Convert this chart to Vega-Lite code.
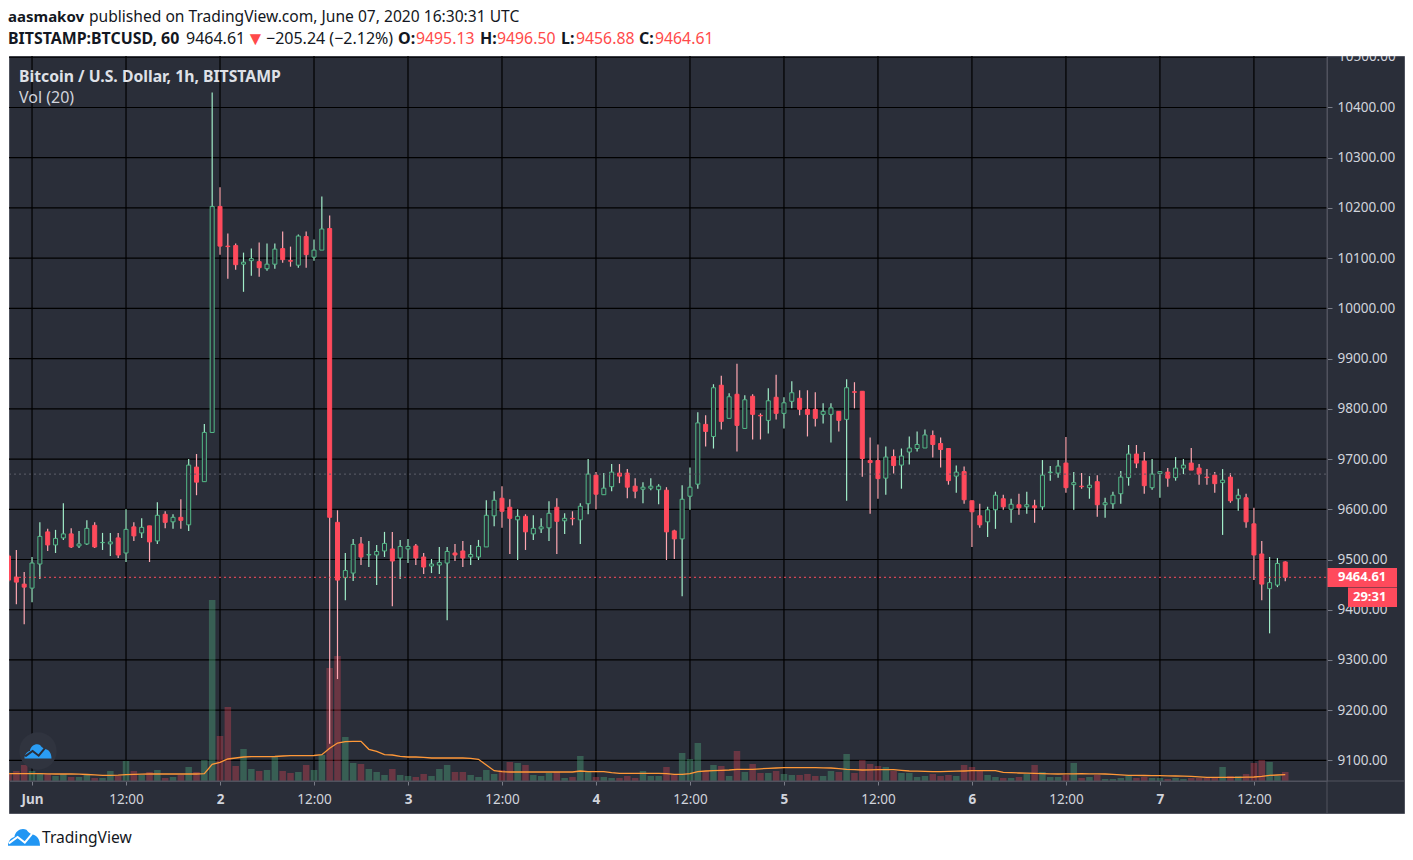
{
  "$schema": "https://vega.github.io/schema/vega-lite/v6.json",
  "width": 1395,
  "height": 757,
  "autosize": "none",
  "padding": {"left": 9, "top": 56, "right": 9, "bottom": 47},
  "background": "#ffffff",
  "view": {"fill": "#2a2e39", "stroke": "#50535e"},
  "config": {"font": "Noto Sans", "text": {"font": "Noto Sans"}},
  "datasets": {
    "candles": [
      {"t":"2020-05-31T21:00Z","open":9507,"high":9510,"low":9455,"close":9459,"vol":8,"ma":7.3},
      {"t":"2020-05-31T22:00Z","open":9465,"high":9519,"low":9411,"close":9455,"vol":10,"ma":7.3},
      {"t":"2020-05-31T23:00Z","open":9451,"high":9475,"low":9371,"close":9445,"vol":16,"ma":7.3},
      {"t":"2020-06-01T00:00Z","open":9443,"high":9505,"low":9415,"close":9493,"vol":10,"ma":7.3},
      {"t":"2020-06-01T01:00Z","open":9491,"high":9574,"low":9461,"close":9546,"vol":8,"ma":7.3},
      {"t":"2020-06-01T02:00Z","open":9555,"high":9561,"low":9517,"close":9529,"vol":7,"ma":7.2},
      {"t":"2020-06-01T03:00Z","open":9529,"high":9559,"low":9513,"close":9542,"vol":5,"ma":7},
      {"t":"2020-06-01T04:00Z","open":9543,"high":9612,"low":9539,"close":9551,"vol":7,"ma":7},
      {"t":"2020-06-01T05:00Z","open":9551,"high":9562,"low":9523,"close":9525,"vol":4,"ma":7},
      {"t":"2020-06-01T06:00Z","open":9527,"high":9557,"low":9523,"close":9531,"vol":4,"ma":6.8},
      {"t":"2020-06-01T07:00Z","open":9531,"high":9578,"low":9529,"close":9562,"vol":6,"ma":6.5},
      {"t":"2020-06-01T08:00Z","open":9568,"high":9574,"low":9523,"close":9525,"vol":3,"ma":6.2},
      {"t":"2020-06-01T09:00Z","open":9533.5,"high":9553,"low":9519,"close":9534,"vol":3,"ma":5.7},
      {"t":"2020-06-01T10:00Z","open":9531,"high":9553,"low":9507,"close":9535,"vol":10,"ma":5.7},
      {"t":"2020-06-01T11:00Z","open":9543,"high":9553,"low":9503,"close":9509,"vol":5,"ma":5.8},
      {"t":"2020-06-01T12:00Z","open":9513,"high":9600,"low":9495,"close":9560,"vol":20,"ma":6.3},
      {"t":"2020-06-01T13:00Z","open":9565,"high":9574,"low":9537,"close":9547,"vol":10,"ma":6.6},
      {"t":"2020-06-01T14:00Z","open":9553,"high":9582,"low":9543,"close":9564,"vol":6,"ma":6.8},
      {"t":"2020-06-01T15:00Z","open":9567,"high":9567,"low":9495,"close":9535,"vol":9,"ma":7},
      {"t":"2020-06-01T16:00Z","open":9537,"high":9614,"low":9531,"close":9588,"vol":11,"ma":7},
      {"t":"2020-06-01T17:00Z","open":9590,"high":9596,"low":9562,"close":9574,"vol":3,"ma":7},
      {"t":"2020-06-01T18:00Z","open":9575,"high":9590,"low":9561,"close":9584,"vol":4,"ma":7},
      {"t":"2020-06-01T19:00Z","open":9584,"high":9620,"low":9561,"close":9578,"vol":6,"ma":7},
      {"t":"2020-06-01T20:00Z","open":9569,"high":9700,"low":9557,"close":9688,"vol":14,"ma":7},
      {"t":"2020-06-01T21:00Z","open":9684,"high":9710,"low":9628,"close":9654,"vol":9,"ma":7},
      {"t":"2020-06-01T22:00Z","open":9655,"high":9770,"low":9655,"close":9753,"vol":21,"ma":7.3},
      {"t":"2020-06-01T23:00Z","open":9753,"high":10430,"low":9753,"close":10203,"vol":181,"ma":16.7},
      {"t":"2020-06-02T00:00Z","open":10203,"high":10241,"low":10107,"close":10124,"vol":45,"ma":18.7},
      {"t":"2020-06-02T01:00Z","open":10124,"high":10149,"low":10059,"close":10123,"vol":74,"ma":22},
      {"t":"2020-06-02T02:00Z","open":10125,"high":10129,"low":10077,"close":10087,"vol":15,"ma":23},
      {"t":"2020-06-02T03:00Z","open":10088,"high":10111,"low":10033,"close":10092,"vol":32,"ma":24},
      {"t":"2020-06-02T04:00Z","open":10095,"high":10119,"low":10065,"close":10099,"vol":12,"ma":24.3},
      {"t":"2020-06-02T05:00Z","open":10093,"high":10131,"low":10063,"close":10081,"vol":10,"ma":24.3},
      {"t":"2020-06-02T06:00Z","open":10079,"high":10129,"low":10075,"close":10088,"vol":11,"ma":24.3},
      {"t":"2020-06-02T07:00Z","open":10088,"high":10129,"low":10079,"close":10118,"vol":25,"ma":24.5},
      {"t":"2020-06-02T08:00Z","open":10119,"high":10153,"low":10091,"close":10097,"vol":10,"ma":25},
      {"t":"2020-06-02T09:00Z","open":10095,"high":10123,"low":10083,"close":10094,"vol":8,"ma":25.3},
      {"t":"2020-06-02T10:00Z","open":10086,"high":10147,"low":10081,"close":10144,"vol":9,"ma":25.3},
      {"t":"2020-06-02T11:00Z","open":10143,"high":10153,"low":10081,"close":10107,"vol":16,"ma":25.3},
      {"t":"2020-06-02T12:00Z","open":10102,"high":10137,"low":10095,"close":10116,"vol":11,"ma":25.5},
      {"t":"2020-06-02T13:00Z","open":10116,"high":10223,"low":10116,"close":10158,"vol":26,"ma":26.3},
      {"t":"2020-06-02T14:00Z","open":10159,"high":10185,"low":9133,"close":9584,"vol":113,"ma":32.7},
      {"t":"2020-06-02T15:00Z","open":9574,"high":9598,"low":9262,"close":9459,"vol":125,"ma":38},
      {"t":"2020-06-02T16:00Z","open":9464,"high":9513,"low":9419,"close":9478,"vol":44,"ma":39.3},
      {"t":"2020-06-02T17:00Z","open":9473,"high":9541,"low":9457,"close":9530,"vol":18,"ma":39.7},
      {"t":"2020-06-02T18:00Z","open":9531,"high":9545,"low":9489,"close":9505,"vol":17,"ma":39.7},
      {"t":"2020-06-02T19:00Z","open":9509,"high":9537,"low":9485,"close":9510,"vol":12,"ma":31.7},
      {"t":"2020-06-02T20:00Z","open":9509,"high":9529,"low":9449,"close":9516,"vol":9,"ma":29.7},
      {"t":"2020-06-02T21:00Z","open":9517,"high":9555,"low":9505,"close":9532,"vol":6,"ma":26.3},
      {"t":"2020-06-02T22:00Z","open":9521,"high":9555,"low":9407,"close":9497,"vol":12,"ma":26},
      {"t":"2020-06-02T23:00Z","open":9503,"high":9539,"low":9461,"close":9526,"vol":6,"ma":24.7},
      {"t":"2020-06-03T00:00Z","open":9521,"high":9541,"low":9493,"close":9526,"vol":5,"ma":24},
      {"t":"2020-06-03T01:00Z","open":9527,"high":9531,"low":9489,"close":9503,"vol":4,"ma":24},
      {"t":"2020-06-03T02:00Z","open":9505,"high":9513,"low":9471,"close":9485,"vol":7,"ma":23.7},
      {"t":"2020-06-03T03:00Z","open":9487,"high":9501,"low":9473,"close":9491,"vol":5,"ma":23},
      {"t":"2020-06-03T04:00Z","open":9489,"high":9525,"low":9471,"close":9494,"vol":12,"ma":23},
      {"t":"2020-06-03T05:00Z","open":9493,"high":9525,"low":9379,"close":9516,"vol":16,"ma":23},
      {"t":"2020-06-03T06:00Z","open":9513,"high":9531,"low":9497,"close":9509,"vol":9,"ma":23},
      {"t":"2020-06-03T07:00Z","open":9517,"high":9537,"low":9485,"close":9503,"vol":9,"ma":23},
      {"t":"2020-06-03T08:00Z","open":9505,"high":9529,"low":9489,"close":9510,"vol":6,"ma":22.7},
      {"t":"2020-06-03T09:00Z","open":9505,"high":9539,"low":9499,"close":9526,"vol":4,"ma":21.7},
      {"t":"2020-06-03T10:00Z","open":9525,"high":9618,"low":9525,"close":9588,"vol":11,"ma":16},
      {"t":"2020-06-03T11:00Z","open":9587,"high":9636,"low":9566,"close":9618,"vol":7,"ma":10.3},
      {"t":"2020-06-03T12:00Z","open":9622,"high":9646,"low":9563,"close":9596,"vol":11,"ma":9.3},
      {"t":"2020-06-03T13:00Z","open":9604,"high":9620,"low":9511,"close":9582,"vol":19,"ma":9},
      {"t":"2020-06-03T14:00Z","open":9579,"high":9600,"low":9499,"close":9586,"vol":18,"ma":9},
      {"t":"2020-06-03T15:00Z","open":9586,"high":9590,"low":9519,"close":9555,"vol":16,"ma":9},
      {"t":"2020-06-03T16:00Z","open":9551,"high":9588,"low":9539,"close":9562,"vol":6,"ma":9},
      {"t":"2020-06-03T17:00Z","open":9561,"high":9582,"low":9553,"close":9565,"vol":5,"ma":9},
      {"t":"2020-06-03T18:00Z","open":9563,"high":9616,"low":9537,"close":9592,"vol":8,"ma":9},
      {"t":"2020-06-03T19:00Z","open":9604,"high":9622,"low":9511,"close":9576,"vol":9,"ma":9},
      {"t":"2020-06-03T20:00Z","open":9577,"high":9592,"low":9551,"close":9582,"vol":3,"ma":9},
      {"t":"2020-06-03T21:00Z","open":9582,"high":9596,"low":9568,"close":9581,"vol":4,"ma":9},
      {"t":"2020-06-03T22:00Z","open":9579,"high":9612,"low":9531,"close":9606,"vol":25,"ma":10},
      {"t":"2020-06-03T23:00Z","open":9611,"high":9700,"low":9590,"close":9670,"vol":9,"ma":9.3},
      {"t":"2020-06-04T00:00Z","open":9668,"high":9674,"low":9600,"close":9630,"vol":4,"ma":9.3},
      {"t":"2020-06-04T01:00Z","open":9629,"high":9672,"low":9629,"close":9642,"vol":4,"ma":9.3},
      {"t":"2020-06-04T02:00Z","open":9645,"high":9690,"low":9636,"close":9674,"vol":3,"ma":8.3},
      {"t":"2020-06-04T03:00Z","open":9672,"high":9690,"low":9652,"close":9666,"vol":3,"ma":7.7},
      {"t":"2020-06-04T04:00Z","open":9672,"high":9680,"low":9622,"close":9644,"vol":5,"ma":7.7},
      {"t":"2020-06-04T05:00Z","open":9646,"high":9662,"low":9622,"close":9636,"vol":3,"ma":7.7},
      {"t":"2020-06-04T06:00Z","open":9640,"high":9654,"low":9612,"close":9644,"vol":10,"ma":7.7},
      {"t":"2020-06-04T07:00Z","open":9642,"high":9662,"low":9638,"close":9646,"vol":5,"ma":7.7},
      {"t":"2020-06-04T08:00Z","open":9639,"high":9650,"low":9610,"close":9646,"vol":5,"ma":7.7},
      {"t":"2020-06-04T09:00Z","open":9638,"high":9644,"low":9499,"close":9555,"vol":14,"ma":7.3},
      {"t":"2020-06-04T10:00Z","open":9557,"high":9559,"low":9501,"close":9541,"vol":6,"ma":6.7},
      {"t":"2020-06-04T11:00Z","open":9541,"high":9648,"low":9427,"close":9620,"vol":28,"ma":6.7},
      {"t":"2020-06-04T12:00Z","open":9626,"high":9683,"low":9599,"close":9644,"vol":22,"ma":7.3},
      {"t":"2020-06-04T13:00Z","open":9650,"high":9793,"low":9641,"close":9772,"vol":38,"ma":9.3},
      {"t":"2020-06-04T14:00Z","open":9769,"high":9787,"low":9725,"close":9755,"vol":10,"ma":10},
      {"t":"2020-06-04T15:00Z","open":9745,"high":9849,"low":9721,"close":9842,"vol":16,"ma":10.3},
      {"t":"2020-06-04T16:00Z","open":9847,"high":9866,"low":9759,"close":9775,"vol":15,"ma":10.7},
      {"t":"2020-06-04T17:00Z","open":9781,"high":9831,"low":9781,"close":9824,"vol":5,"ma":11},
      {"t":"2020-06-04T18:00Z","open":9829,"high":9890,"low":9715,"close":9767,"vol":30,"ma":11.7},
      {"t":"2020-06-04T19:00Z","open":9761,"high":9827,"low":9761,"close":9818,"vol":9,"ma":11.7},
      {"t":"2020-06-04T20:00Z","open":9825,"high":9829,"low":9739,"close":9789,"vol":17,"ma":11.7},
      {"t":"2020-06-04T21:00Z","open":9787,"high":9791,"low":9739,"close":9786,"vol":8,"ma":12.2},
      {"t":"2020-06-04T22:00Z","open":9777,"high":9841,"low":9751,"close":9816,"vol":8,"ma":12.7},
      {"t":"2020-06-04T23:00Z","open":9823,"high":9868,"low":9779,"close":9791,"vol":10,"ma":13},
      {"t":"2020-06-05T00:00Z","open":9791,"high":9823,"low":9761,"close":9812,"vol":7,"ma":13.3},
      {"t":"2020-06-05T01:00Z","open":9815,"high":9855,"low":9801,"close":9832,"vol":6,"ma":13.3},
      {"t":"2020-06-05T02:00Z","open":9821,"high":9837,"low":9787,"close":9799,"vol":6,"ma":13.3},
      {"t":"2020-06-05T03:00Z","open":9799,"high":9837,"low":9745,"close":9789,"vol":7,"ma":13.3},
      {"t":"2020-06-05T04:00Z","open":9799,"high":9833,"low":9765,"close":9781,"vol":5,"ma":13.3},
      {"t":"2020-06-05T05:00Z","open":9789,"high":9811,"low":9771,"close":9795,"vol":5,"ma":13.2},
      {"t":"2020-06-05T06:00Z","open":9789,"high":9811,"low":9733,"close":9802,"vol":10,"ma":13},
      {"t":"2020-06-05T07:00Z","open":9795,"high":9795,"low":9755,"close":9777,"vol":9,"ma":12.4},
      {"t":"2020-06-05T08:00Z","open":9779,"high":9859,"low":9617,"close":9842,"vol":27,"ma":11.7},
      {"t":"2020-06-05T09:00Z","open":9834,"high":9853,"low":9801,"close":9833,"vol":8,"ma":11.3},
      {"t":"2020-06-05T10:00Z","open":9835,"high":9835,"low":9665,"close":9701,"vol":21,"ma":11},
      {"t":"2020-06-05T11:00Z","open":9697,"high":9743,"low":9591,"close":9693,"vol":17,"ma":11.2},
      {"t":"2020-06-05T12:00Z","open":9697,"high":9729,"low":9621,"close":9661,"vol":15,"ma":11.3},
      {"t":"2020-06-05T13:00Z","open":9662,"high":9725,"low":9629,"close":9704,"vol":14,"ma":11.3},
      {"t":"2020-06-05T14:00Z","open":9705,"high":9719,"low":9671,"close":9687,"vol":10,"ma":11.3},
      {"t":"2020-06-05T15:00Z","open":9688,"high":9721,"low":9641,"close":9706,"vol":8,"ma":10.6},
      {"t":"2020-06-05T16:00Z","open":9714,"high":9745,"low":9689,"close":9722,"vol":8,"ma":10},
      {"t":"2020-06-05T17:00Z","open":9721,"high":9755,"low":9715,"close":9729,"vol":4,"ma":9.8},
      {"t":"2020-06-05T18:00Z","open":9722,"high":9759,"low":9722,"close":9748,"vol":5,"ma":9.7},
      {"t":"2020-06-05T19:00Z","open":9747,"high":9757,"low":9703,"close":9729,"vol":7,"ma":9.3},
      {"t":"2020-06-05T20:00Z","open":9731,"high":9743,"low":9683,"close":9719,"vol":5,"ma":9.4},
      {"t":"2020-06-05T21:00Z","open":9721,"high":9721,"low":9649,"close":9657,"vol":6,"ma":9.6},
      {"t":"2020-06-05T22:00Z","open":9666,"high":9687,"low":9633,"close":9674,"vol":5,"ma":9.8},
      {"t":"2020-06-05T23:00Z","open":9675,"high":9685,"low":9611,"close":9619,"vol":16,"ma":10},
      {"t":"2020-06-06T00:00Z","open":9617,"high":9617,"low":9525,"close":9595,"vol":14,"ma":10.3},
      {"t":"2020-06-06T01:00Z","open":9587,"high":9611,"low":9563,"close":9569,"vol":10,"ma":10.3},
      {"t":"2020-06-06T02:00Z","open":9575,"high":9605,"low":9545,"close":9599,"vol":6,"ma":10.3},
      {"t":"2020-06-06T03:00Z","open":9599,"high":9635,"low":9561,"close":9628,"vol":4,"ma":10.3},
      {"t":"2020-06-06T04:00Z","open":9621,"high":9629,"low":9599,"close":9605,"vol":3,"ma":8.7},
      {"t":"2020-06-06T05:00Z","open":9600,"high":9621,"low":9573,"close":9610,"vol":3,"ma":8.3},
      {"t":"2020-06-06T06:00Z","open":9609,"high":9631,"low":9589,"close":9603,"vol":4,"ma":8},
      {"t":"2020-06-06T07:00Z","open":9605,"high":9635,"low":9591,"close":9609,"vol":7,"ma":7.8},
      {"t":"2020-06-06T08:00Z","open":9607,"high":9619,"low":9573,"close":9603,"vol":16,"ma":7.7},
      {"t":"2020-06-06T09:00Z","open":9605,"high":9698,"low":9599,"close":9668,"vol":9,"ma":7.4},
      {"t":"2020-06-06T10:00Z","open":9673,"high":9686,"low":9657,"close":9674,"vol":4,"ma":7.2},
      {"t":"2020-06-06T11:00Z","open":9672,"high":9698,"low":9663,"close":9686,"vol":4,"ma":7},
      {"t":"2020-06-06T12:00Z","open":9692,"high":9744,"low":9633,"close":9643,"vol":6,"ma":7.1},
      {"t":"2020-06-06T13:00Z","open":9649,"high":9674,"low":9599,"close":9653,"vol":18,"ma":7.2},
      {"t":"2020-06-06T14:00Z","open":9646,"high":9672,"low":9641,"close":9645,"vol":3,"ma":7.3},
      {"t":"2020-06-06T15:00Z","open":9643,"high":9666,"low":9621,"close":9648,"vol":4,"ma":7.2},
      {"t":"2020-06-06T16:00Z","open":9655,"high":9668,"low":9585,"close":9609,"vol":6,"ma":7.1},
      {"t":"2020-06-06T17:00Z","open":9609,"high":9623,"low":9583,"close":9613,"vol":2,"ma":7},
      {"t":"2020-06-06T18:00Z","open":9611,"high":9635,"low":9601,"close":9628,"vol":2,"ma":6.6},
      {"t":"2020-06-06T19:00Z","open":9631,"high":9676,"low":9611,"close":9664,"vol":3,"ma":6.1},
      {"t":"2020-06-06T20:00Z","open":9663,"high":9728,"low":9647,"close":9710,"vol":5,"ma":5.7},
      {"t":"2020-06-06T21:00Z","open":9710,"high":9728,"low":9682,"close":9692,"vol":3,"ma":5.6},
      {"t":"2020-06-06T22:00Z","open":9696,"high":9714,"low":9631,"close":9647,"vol":4,"ma":5.5},
      {"t":"2020-06-06T23:00Z","open":9643,"high":9700,"low":9639,"close":9670,"vol":3,"ma":5.4},
      {"t":"2020-06-07T00:00Z","open":9671,"high":9675,"low":9623,"close":9675,"vol":3,"ma":5.3},
      {"t":"2020-06-07T01:00Z","open":9674,"high":9682,"low":9645,"close":9662,"vol":2,"ma":5.1},
      {"t":"2020-06-07T02:00Z","open":9663,"high":9704,"low":9657,"close":9682,"vol":3,"ma":5},
      {"t":"2020-06-07T03:00Z","open":9682,"high":9700,"low":9670,"close":9688,"vol":2,"ma":4.8},
      {"t":"2020-06-07T04:00Z","open":9692,"high":9722,"low":9678,"close":9678,"vol":3,"ma":4.7},
      {"t":"2020-06-07T05:00Z","open":9682,"high":9690,"low":9649,"close":9670,"vol":3,"ma":4.2},
      {"t":"2020-06-07T06:00Z","open":9664,"high":9680,"low":9649,"close":9663,"vol":3,"ma":3.7},
      {"t":"2020-06-07T07:00Z","open":9668,"high":9674,"low":9633,"close":9651,"vol":3,"ma":3.7},
      {"t":"2020-06-07T08:00Z","open":9653,"high":9680,"low":9549,"close":9658,"vol":14,"ma":3.7},
      {"t":"2020-06-07T09:00Z","open":9664,"high":9672,"low":9613,"close":9617,"vol":5,"ma":3.7},
      {"t":"2020-06-07T10:00Z","open":9621,"high":9641,"low":9597,"close":9628,"vol":5,"ma":3.7},
      {"t":"2020-06-07T11:00Z","open":9623,"high":9631,"low":9563,"close":9575,"vol":7,"ma":3.8},
      {"t":"2020-06-07T12:00Z","open":9571,"high":9603,"low":9459,"close":9509,"vol":18,"ma":4},
      {"t":"2020-06-07T13:00Z","open":9511,"high":9537,"low":9419,"close":9451,"vol":21,"ma":4.7},
      {"t":"2020-06-07T14:00Z","open":9442,"high":9505,"low":9353,"close":9454,"vol":19,"ma":5.7},
      {"t":"2020-06-07T15:00Z","open":9449,"high":9503,"low":9445,"close":9492,"vol":5,"ma":6},
      {"t":"2020-06-07T16:00Z","open":9495.13,"high":9496.5,"low":9456.88,"close":9464.61,"vol":9,"ma":6.3}
    ],
    "levels": [
      {"price": 9670, "kind": "prev"},
      {"price": 9464.61, "kind": "last"}
    ],
    "priceGrid": [
      {"price":9100},{"price":9200},{"price":9300},{"price":9400},{"price":9500},{"price":9600},{"price":9700},{"price":9800},{"price":9900},{"price":10000},{"price":10100},{"price":10200},{"price":10300},{"price":10400},{"price":10500}
    ],
    "timeGrid": [
      {"t":"2020-06-01T00:00Z"},{"t":"2020-06-01T12:00Z"},{"t":"2020-06-02T00:00Z"},{"t":"2020-06-02T12:00Z"},{"t":"2020-06-03T00:00Z"},{"t":"2020-06-03T12:00Z"},{"t":"2020-06-04T00:00Z"},{"t":"2020-06-04T12:00Z"},{"t":"2020-06-05T00:00Z"},{"t":"2020-06-05T12:00Z"},{"t":"2020-06-06T00:00Z"},{"t":"2020-06-06T12:00Z"},{"t":"2020-06-07T00:00Z"},{"t":"2020-06-07T12:00Z"}
    ]
  },
  "data": {"name": "candles"},
  "encoding": {
    "x": {
      "field": "t",
      "type": "temporal",
      "title": null,
      "scale": {"type": "utc", "domain": [1590959016000, 1591564788000], "range": [0, 1318], "padding": 0},
      "axis": {
        "orient": "bottom",
        "offset": -32,
        "values": [1590969600000, 1591012800000, 1591056000000, 1591099200000, 1591142400000, 1591185600000, 1591228800000, 1591272000000, 1591315200000, 1591358400000, 1591401600000, 1591444800000, 1591488000000, 1591531200000],
        "labelExpr": "utchours(datum.value) == 12 ? '12:00' : (utcdate(datum.value) == 1 ? 'Jun' : utcdate(datum.value))",
        "labelFontWeight": {"condition": {"test": "utchours(datum.value) == 12", "value": "normal"}, "value": "bold"},
        "labelColor": "#d1d4dc",
        "labelFontSize": 13.5,
        "labelPadding": 7,
        "labelOverlap": false,
        "labelFlush": false,
        "tickColor": "#787b86",
        "tickSize": 4,
        "domainColor": "#50535e",
        "grid": false
      }
    }
  },
  "resolve": {"scale": {"y": "independent"}, "axis": {"y": "independent"}},
  "layer": [
    {
      "data": {"name": "timeGrid"},
      "mark": {"type": "rule", "color": "#000000", "strokeWidth": 1.2},
      "encoding": {"y": {"value": 0}, "y2": {"value": 725}}
    },
    {
      "data": {"name": "priceGrid"},
      "mark": {"type": "rule", "color": "#000000", "strokeWidth": 1.2},
      "encoding": {
        "x": {"value": 0},
        "x2": {"value": 1318},
        "y": {"field": "price", "type": "quantitative", "title": null, "axis": null, "scale": {"domain": [9059, 10502.5], "range": [725, 0], "zero": false, "nice": false}}
      }
    },
    {
      "encoding": {
        "y": {"field": "vol", "type": "quantitative", "title": null, "axis": null, "scale": {"domain": [0, 400], "range": [725, 325]}}
      },
      "layer": [
        {
          "mark": {"type": "bar", "size": 6.5, "clip": true},
          "encoding": {
            "color": {"condition": {"test": "datum.close >= datum.open", "value": "#53b987"}, "value": "#ff4a5c"},
            "opacity": {"condition": {"test": "datum.close >= datum.open", "value": 0.35}, "value": 0.3}
          }
        },
        {
          "mark": {"type": "line", "color": "#ff9838", "strokeWidth": 1.3, "clip": true},
          "encoding": {"y": {"field": "ma", "type": "quantitative"}}
        }
      ]
    },
    {
      "layer": [
        {
          "mark": {"type": "rule", "strokeWidth": 1.2, "clip": true},
          "encoding": {
            "y": {
              "field": "low",
              "type": "quantitative",
              "title": null,
              "scale": {"domain": [9059, 10502.5], "range": [725, 0], "zero": false, "nice": false},
              "axis": {
                "orient": "right",
                "offset": -77,
                "values": [9100, 9200, 9300, 9400, 9500, 9600, 9700, 9800, 9900, 10000, 10100, 10200, 10300, 10400],
                "format": ".2f",
                "labelColor": "#d1d4dc",
                "labelFontSize": 13.5,
                "labelPadding": 5,
                "labelOverlap": false,
                "labelFlush": false,
                "tickColor": "#787b86",
                "tickSize": 5,
                "domainColor": "#50535e",
                "grid": false
              }
            },
            "y2": {"field": "high"},
            "color": {"condition": {"test": "datum.close >= datum.open", "value": "#a0ecc8"}, "value": "#ffa8b2"}
          }
        },
        {
          "mark": {"type": "bar", "size": 4, "strokeWidth": 1, "clip": true},
          "encoding": {
            "y": {"field": "open", "type": "quantitative", "title": null},
            "y2": {"field": "close"},
            "fill": {"condition": {"test": "datum.close >= datum.open", "value": "#2a2e39"}, "value": "#ff4a5c"},
            "stroke": {"condition": {"test": "datum.close >= datum.open", "value": "#53b987"}, "value": "#ff4a5c"}
          }
        },
        {
          "data": {"name": "levels"},
          "mark": {"type": "rule", "strokeWidth": 1, "strokeDash": [2, 3]},
          "encoding": {
            "x": {"value": 0},
            "x2": {"value": 1318},
            "y": {"field": "price", "type": "quantitative", "title": null},
            "color": {"condition": {"test": "datum.kind == 'last'", "value": "#ff4a5c"}, "value": "#5d606b"}
          }
        },
        {
          "data": {"values": [{"label": "10500.00"}]},
          "mark": {"type": "text", "align": "left", "baseline": "middle", "fontSize": 13.5, "color": "#d1d4dc", "clip": true},
          "encoding": {"x": {"value": 1329}, "y": {"datum": 10500}, "text": {"field": "label"}}
        },
        {
          "data": {"values": [{"label": "9464.61"}]},
          "mark": {"type": "rect", "color": "#ff4a5c"},
          "encoding": {"x": {"value": 1318}, "x2": {"value": 1388}, "y": {"datum": 9483}, "y2": {"datum": 9445.5}}
        },
        {
          "data": {"values": [{"label": "29:31"}]},
          "mark": {"type": "rect", "color": "#ff4a5c"},
          "encoding": {"x": {"value": 1339}, "x2": {"value": 1388}, "y": {"datum": 9444.5}, "y2": {"datum": 9405.5}}
        },
        {
          "data": {"values": [{"label": "9464.61"}]},
          "mark": {"type": "text", "align": "left", "baseline": "middle", "fontSize": 13, "fontWeight": "bold", "color": "#ffffff"},
          "encoding": {"x": {"value": 1329}, "y": {"datum": 9464.61}, "text": {"field": "label"}}
        },
        {
          "data": {"values": [{"label": "29:31"}]},
          "mark": {"type": "text", "align": "left", "baseline": "middle", "fontSize": 13, "fontWeight": "bold", "color": "#ffffff"},
          "encoding": {"x": {"value": 1344}, "y": {"datum": 9425}, "text": {"field": "label"}}
        }
      ]
    },
    {
      "data": {"values": [{"label": "frame"}]},
      "mark": {"type": "rule", "color": "#50535e"},
      "encoding": {"x": {"value": 1318}, "y": {"value": 0}, "y2": {"value": 757}}
    },
    {
      "data": {"values": [{"label": "frame"}]},
      "mark": {"type": "rule", "color": "#50535e"},
      "encoding": {"x": {"value": 0}, "x2": {"value": 1395}, "y": {"value": 725}}
    },
    {
      "data": {"values": [{"label": "badge"}]},
      "mark": {"type": "point", "shape": "circle", "filled": true, "size": 1400, "color": "#30343f", "opacity": 1},
      "encoding": {"x": {"value": 29}, "y": {"value": 695}}
    },
    {
      "data": {"values": [{"label": "badge"}]},
      "mark": {"type": "point", "shape": "M-1,0.55 C-1,0.3 -0.85,0.05 -0.6,0 C-0.55,-0.4 -0.15,-0.6 0.15,-0.45 C0.3,-0.25 0.4,-0.2 0.55,-0.15 C0.8,-0.1 1,0.15 1,0.55 Z", "filled": true, "size": 729, "color": "#2a9df4", "opacity": 1},
      "encoding": {"x": {"value": 29}, "y": {"value": 695}}
    },
    {
      "data": {"values": [{"label": "badge"}]},
      "mark": {"type": "point", "shape": "M-0.95,0.4 L-0.4,0 L0.05,0.35 L0.5,-0.2", "filled": false, "size": 729, "strokeWidth": 2, "color": "#2a2e39", "opacity": 1},
      "encoding": {"x": {"value": 29}, "y": {"value": 695}}
    },
    {
      "data": {"values": [{"label": "Bitcoin / U.S. Dollar, 1h, BITSTAMP"}]},
      "mark": {"type": "text", "align": "left", "fontSize": 15.75, "fontWeight": "bold", "color": "#dfe1e7"},
      "encoding": {"x": {"value": 10}, "y": {"value": 21}, "text": {"field": "label"}}
    },
    {
      "data": {"values": [{"label": "Vol (20)"}]},
      "mark": {"type": "text", "align": "left", "fontSize": 16, "color": "#d1d4dc"},
      "encoding": {"x": {"value": 10}, "y": {"value": 42}, "text": {"field": "label"}}
    },
    {
      "data": {"values": [{"label": "aasmakov"}]},
      "mark": {"type": "text", "align": "left", "fontSize": 15, "fontWeight": "bold", "color": "#131722"},
      "encoding": {"x": {"value": -1}, "y": {"value": -39}, "text": {"field": "label"}}
    },
    {
      "data": {"values": [{"label": "published on TradingView.com, June 07, 2020 16:30:31 UTC"}]},
      "mark": {"type": "text", "align": "left", "fontSize": 15.6, "color": "#131722"},
      "encoding": {"x": {"value": 80}, "y": {"value": -39}, "text": {"field": "label"}}
    },
    {
      "data": {"values": [{"label": "BITSTAMP:BTCUSD, 60"}]},
      "mark": {"type": "text", "align": "left", "fontSize": 15.9, "fontWeight": "bold", "color": "#131722"},
      "encoding": {"x": {"value": -1}, "y": {"value": -17}, "text": {"field": "label"}}
    },
    {
      "data": {"values": [{"label": "9464.61"}]},
      "mark": {"type": "text", "align": "left", "fontSize": 16, "color": "#131722"},
      "encoding": {"x": {"value": 177}, "y": {"value": -17}, "text": {"field": "label"}}
    },
    {
      "data": {"values": [{"label": "▼"}]},
      "mark": {"type": "text", "align": "left", "fontSize": 19, "color": "#ff4a4a"},
      "encoding": {"x": {"value": 237}, "y": {"value": -17}, "text": {"field": "label"}}
    },
    {
      "data": {"values": [{"label": "−205.24 (−2.12%)"}]},
      "mark": {"type": "text", "align": "left", "fontSize": 16, "color": "#131722"},
      "encoding": {"x": {"value": 257}, "y": {"value": -17}, "text": {"field": "label"}}
    },
    {
      "data": {"values": [{"label": "O:"}]},
      "mark": {"type": "text", "align": "left", "fontSize": 16, "fontWeight": "bold", "color": "#131722"},
      "encoding": {"x": {"value": 389}, "y": {"value": -17}, "text": {"field": "label"}}
    },
    {
      "data": {"values": [{"label": "9495.13"}]},
      "mark": {"type": "text", "align": "left", "fontSize": 15.8, "color": "#ff4a4a"},
      "encoding": {"x": {"value": 407}, "y": {"value": -17}, "text": {"field": "label"}}
    },
    {
      "data": {"values": [{"label": "H:"}]},
      "mark": {"type": "text", "align": "left", "fontSize": 16, "fontWeight": "bold", "color": "#131722"},
      "encoding": {"x": {"value": 471}, "y": {"value": -17}, "text": {"field": "label"}}
    },
    {
      "data": {"values": [{"label": "9496.50"}]},
      "mark": {"type": "text", "align": "left", "fontSize": 15.8, "color": "#ff4a4a"},
      "encoding": {"x": {"value": 488}, "y": {"value": -17}, "text": {"field": "label"}}
    },
    {
      "data": {"values": [{"label": "L:"}]},
      "mark": {"type": "text", "align": "left", "fontSize": 16, "fontWeight": "bold", "color": "#131722"},
      "encoding": {"x": {"value": 552}, "y": {"value": -17}, "text": {"field": "label"}}
    },
    {
      "data": {"values": [{"label": "9456.88"}]},
      "mark": {"type": "text", "align": "left", "fontSize": 15.8, "color": "#ff4a4a"},
      "encoding": {"x": {"value": 567}, "y": {"value": -17}, "text": {"field": "label"}}
    },
    {
      "data": {"values": [{"label": "C:"}]},
      "mark": {"type": "text", "align": "left", "fontSize": 16, "fontWeight": "bold", "color": "#131722"},
      "encoding": {"x": {"value": 630}, "y": {"value": -17}, "text": {"field": "label"}}
    },
    {
      "data": {"values": [{"label": "9464.61"}]},
      "mark": {"type": "text", "align": "left", "fontSize": 15.8, "color": "#ff4a4a"},
      "encoding": {"x": {"value": 646}, "y": {"value": -17}, "text": {"field": "label"}}
    },
    {
      "data": {"values": [{"label": "logo"}]},
      "mark": {"type": "point", "shape": "M-1,0.55 C-1,0.3 -0.85,0.05 -0.6,0 C-0.55,-0.4 -0.15,-0.6 0.15,-0.45 C0.3,-0.25 0.4,-0.2 0.55,-0.15 C0.8,-0.1 1,0.15 1,0.55 Z", "filled": true, "size": 1024, "color": "#2196f3", "opacity": 1},
      "encoding": {"x": {"value": 15}, "y": {"value": 781}}
    },
    {
      "data": {"values": [{"label": "logo"}]},
      "mark": {"type": "point", "shape": "M-0.95,0.4 L-0.4,0 L0.05,0.35 L0.5,-0.2", "filled": false, "size": 1024, "strokeWidth": 2, "color": "#ffffff", "opacity": 1},
      "encoding": {"x": {"value": 15}, "y": {"value": 781}}
    },
    {
      "data": {"values": [{"label": "TradingView"}]},
      "mark": {"type": "text", "align": "left", "fontSize": 15.6, "color": "#131722"},
      "encoding": {"x": {"value": 33}, "y": {"value": 782}, "text": {"field": "label"}}
    }
  ]
}
